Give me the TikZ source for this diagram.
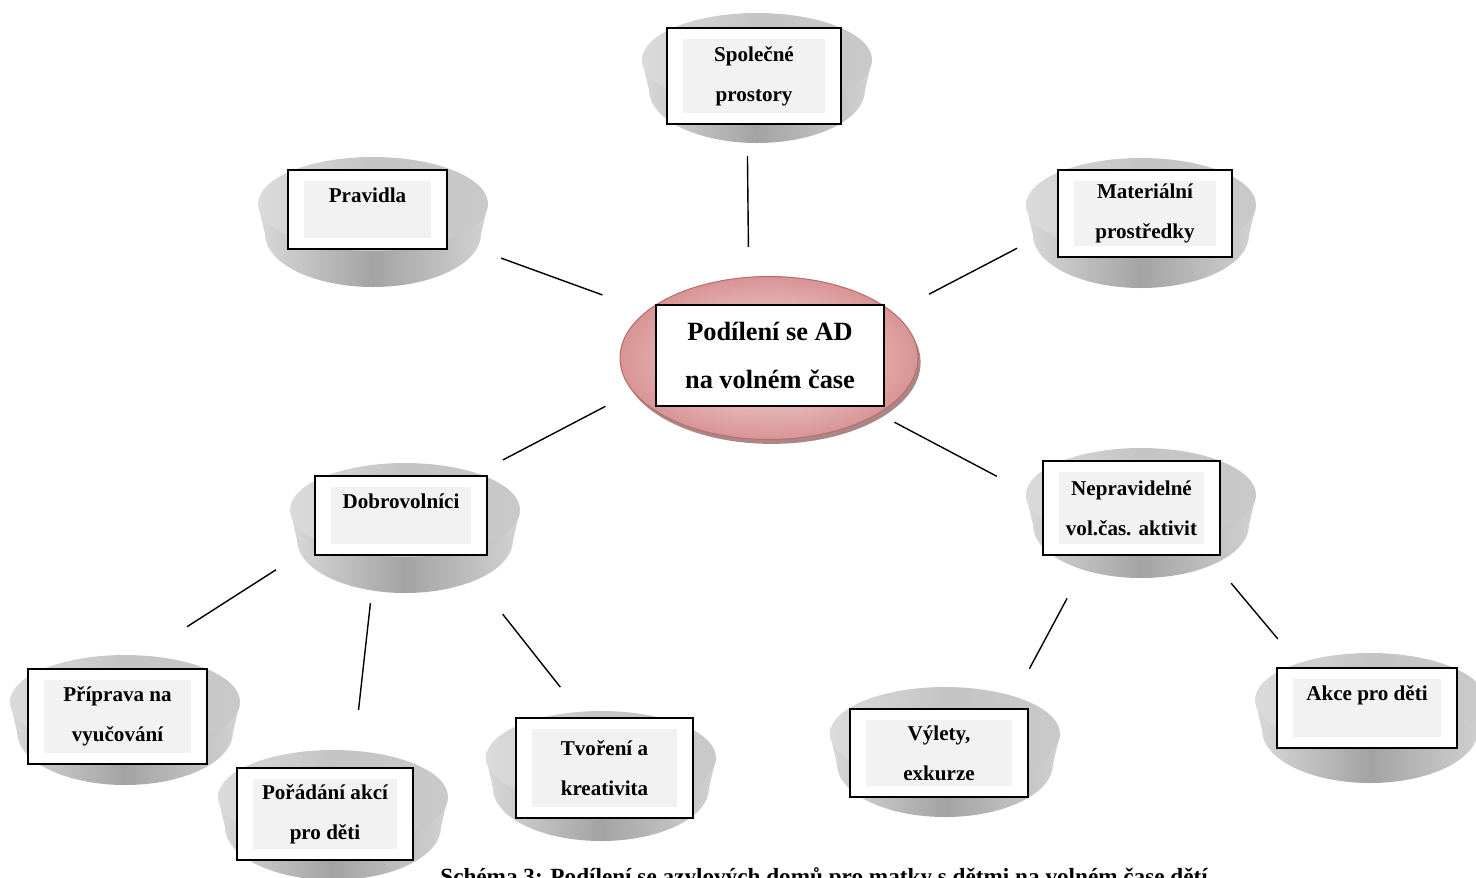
\documentclass[tikz,border=0pt]{standalone}
\usepackage{fontspec}
\setmainfont{Liberation Serif}
\usepackage{tikz}
\usepackage{xcolor}
\usetikzlibrary{shapes.geometric,shadows}

\definecolor{innergray}{RGB}{242,242,242}
\definecolor{hubedge}{RGB}{185,110,110}
\definecolor{hubin}{RGB}{250,232,232}
\definecolor{hubout}{RGB}{216,148,148}
\definecolor{hubshade}{RGB}{170,135,135}

\begin{document}
\begin{tikzpicture}[
  x=0.02cm, y=0.02cm,
  disk/.pic={
    \shade[left color=gray!30, right color=gray!35, middle color=gray!72]
      (-115,0) -- (-108,-30)
      arc[start angle=180, end angle=360, x radius=108, y radius=53]
      -- (115,0) -- cycle;
    \shade[left color=gray!28, right color=gray!42, middle color=gray!46]
      (0,0) ellipse[x radius=115, y radius=47];
  },
  box/.style={rectangle, draw=black, line width=1.2pt, fill=white,
              inner sep=0pt, align=center,
              font=\bfseries\fontsize{12}{22.7}\selectfont,
              path picture={\fill[innergray]
                ([xshift=9pt,yshift=6pt]path picture bounding box.south west)
                rectangle
                ([xshift=-9pt,yshift=-6pt]path picture bounding box.north east);}},
  sz/.style 2 args={minimum width=#1, minimum height=#2},
  onel/.style={text height=8.5pt, text depth=17pt},
  hub/.style={ellipse, draw=hubedge, line width=0.6pt,
              inner color=hubin, outer color=hubout,
              minimum width=5.96cm, minimum height=3.26cm,
              drop shadow={shadow xshift=1.5pt, shadow yshift=-2.5pt,
                           fill=hubshade, opacity=1}},
  hubbox/.style={rectangle, draw=black, line width=1.2pt, fill=white,
                 inner sep=0pt, align=center,
                 font=\bfseries\fontsize{15}{27.8}\selectfont},
  link/.style={line width=0.8pt},
]
\useasboundingbox (0,0) rectangle (1476,-877);

% gray disks under the boxes
\pic at (757,-60)  {disk};
\pic at (373,-204) {disk};
\pic at (1141,-205) {disk};
\pic at (405,-510) {disk};
\pic at (1141,-495) {disk};
\pic at (125,-702) {disk};
\pic at (333,-797) {disk};
\pic at (601,-758) {disk};
\pic at (945,-734) {disk};
\pic at (1370,-700) {disk};

% centre
\node[hub] (hub) at (769,-358) {};
\node[hubbox, sz={4.56cm}{2.02cm}] (hubtxt) at (770,-355.5)
  {Podílení se AD\\na volném čase};

% boxes
\node[box, sz={3.48cm}{1.92cm}] (spol) at (754,-76) {Společné\\prostory};
\node[box, onel, sz={3.18cm}{1.58cm}] (prav) at (367.5,-209.5) {Pravidla};
\node[box, sz={3.48cm}{1.74cm}] (mat) at (1145,-213.5) {Materiální\\prostředky};
\node[box, onel, sz={3.44cm}{1.58cm}] (dobr) at (401,-515.5) {Dobrovolníci};
\node[box, sz={3.54cm}{1.88cm}] (nepr) at (1131.5,-508) {Nepravidelné\\vol.čas. aktivit};
\node[box, sz={3.58cm}{1.90cm}] (prip) at (117.5,-716.5) {Příprava na\\vyučování};
\node[box, sz={3.52cm}{1.84cm}] (pora) at (325,-814) {Pořádání akcí\\pro děti};
\node[box, sz={3.54cm}{2.00cm}] (tvor) at (604.5,-768) {Tvoření a\\kreativita};
\node[box, sz={3.56cm}{1.76cm}] (vyl) at (939,-753) {Výlety,\\exkurze};
\node[box, onel, sz={3.60cm}{1.60cm}] (akce) at (1367,-708) {Akce pro děti};

% connectors
\draw[link, shorten <=0.62cm, shorten >=0.60cm] (spol.262.9) -- (hub.104.7);
\draw[link, shorten <=1.13cm, shorten >=0.94cm] (prav.340.7) -- (hub.159);
\draw[link, shorten <=0.90cm, shorten >=0.80cm] (mat.189.2) -- (hub.20.5);
\draw[link, shorten <=0.62cm, shorten >=0.65cm] (hub.194) -- (dobr.29.4);
\draw[link, shorten <=0.36cm, shorten >=1.02cm] (hub.333.7) -- (nepr.175.8);
\draw[link, shorten <=0.90cm, shorten >=1.53cm] (dobr.199.4) -- (prip.84.9);
\draw[link, shorten <=0.95cm, shorten >=1.15cm] (dobr.238.3) -- (pora.60.2);
\draw[link, shorten <=1.48cm, shorten >=0.76cm] (dobr.324) -- (tvor.112.7);
\draw[link, shorten <=0.96cm, shorten >=0.89cm] (nepr.229.7) -- (vyl.33.6);
\draw[link, shorten <=0.71cm, shorten >=0.73cm] (nepr.328.2) -- (akce.148.1);

% caption, cut by the page edge
\node[anchor=base west, inner sep=0pt, font=\bfseries\fontsize{13.2}{15}\selectfont]
  (caption) at (440,-884)
  {Schéma 3: Podílení se azylových domů pro matky s dětmi na volném čase dětí};
\end{tikzpicture}
\end{document}
